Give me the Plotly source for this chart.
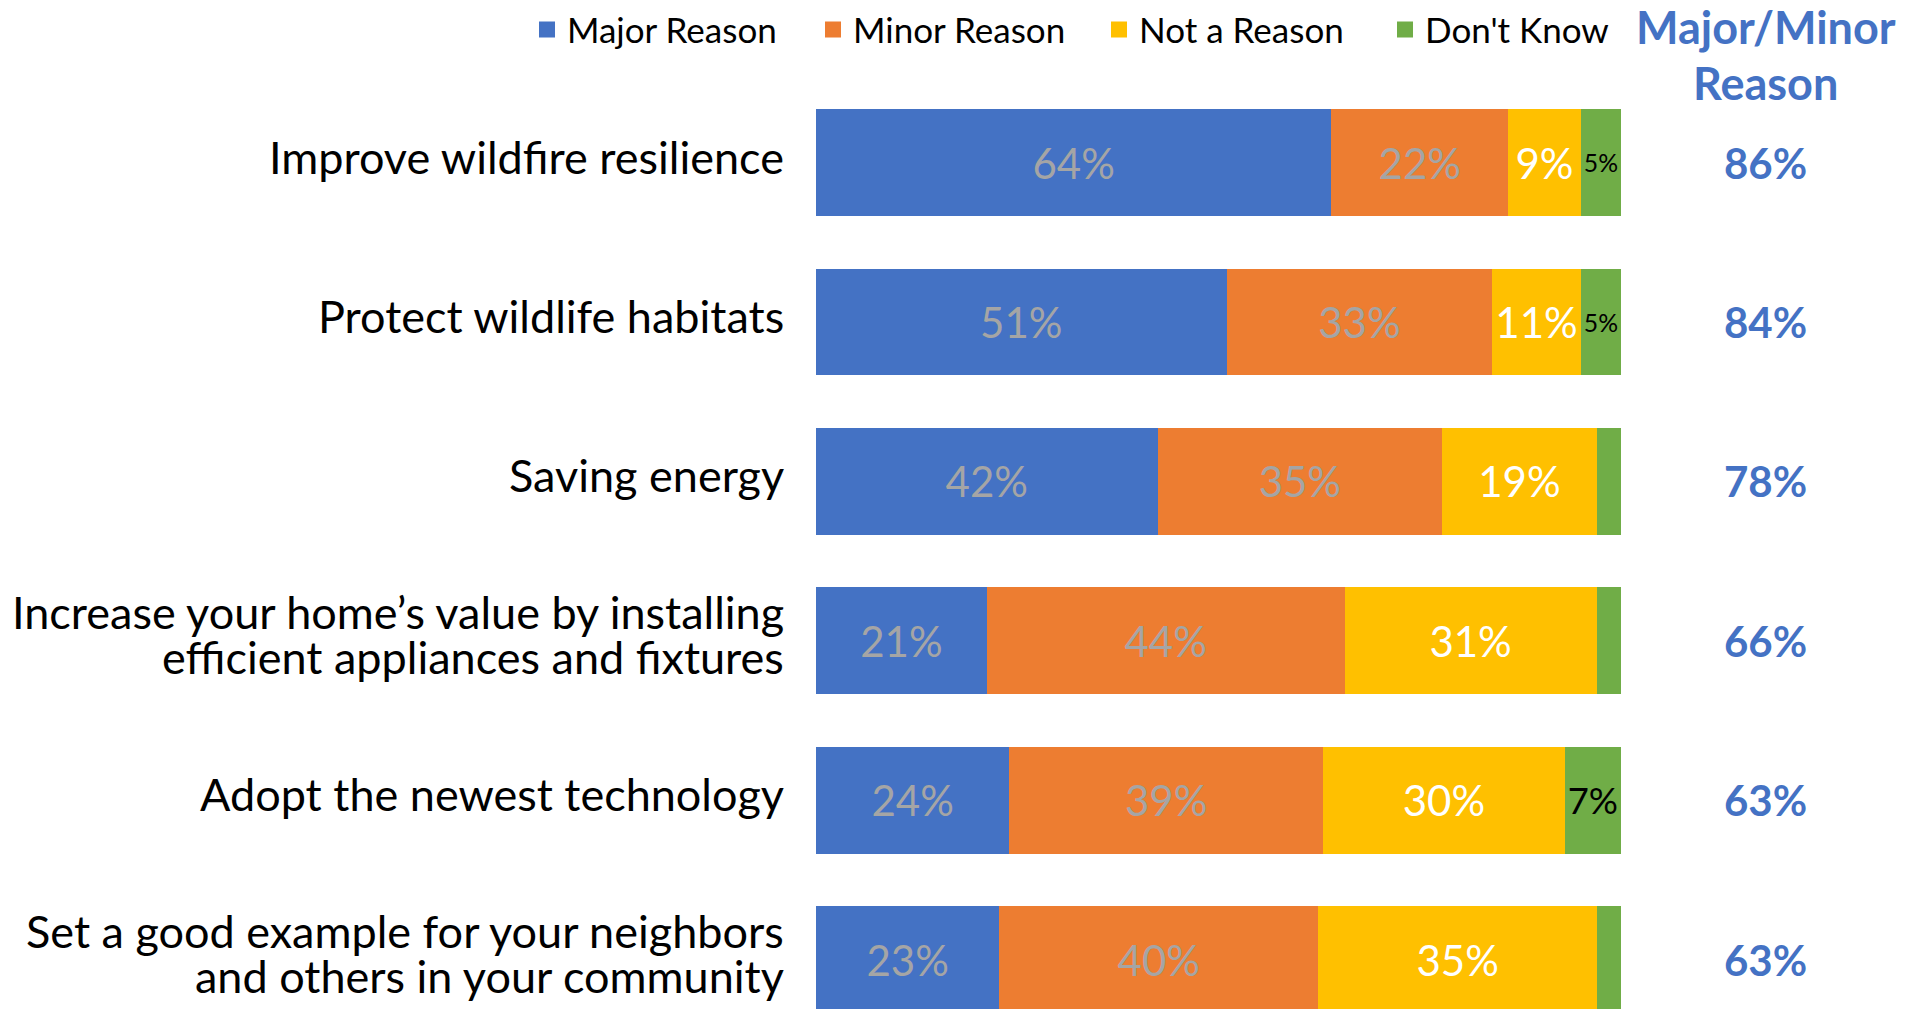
import plotly.graph_objects as go

categories = [
    "Improve wildfire resilience",
    "Protect wildlife habitats",
    "Saving energy",
    "Increase your home’s value by installing\nefficient appliances and fixtures",
    "Adopt the newest technology",
    "Set a good example for your neighbors\nand others in your community",
]
major = [64, 51, 42, 21, 24, 23]
minor = [22, 33, 35, 44, 39, 40]
not_reason = [9, 11, 19, 31, 30, 35]
dont_know = [5, 5, 3, 3, 7, 3]
major_minor = [86, 84, 78, 66, 63, 63]

series = [
    ("Major Reason", major, "#4472C4", "#A5A5A5"),
    ("Minor Reason", minor, "#ED7D31", "#A5A5A5"),
    ("Not a Reason", not_reason, "#FFC000", "#FFFFFF"),
    ("Don't Know", dont_know, "#70AD47", "#000000"),
]

FONT = "Lato"
BLUE = "#4472C4"

fig = go.Figure()
for name, vals, color, tcolor in series:
    # small slices (3%) are left unlabelled, as in the original
    labels = [f"{v}%" if v >= 5 else "" for v in vals]
    fig.add_trace(go.Bar(
        y=categories, x=vals, name=name, orientation="h", showlegend=False,
        marker=dict(color=color, line=dict(width=0)),
        text=labels, textposition="inside", insidetextanchor="middle",
        textangle=0, textfont=dict(family=FONT, size=42, color=tcolor),
    ))

# legend entries with bigger square swatches
for name, vals, color, tcolor in series:
    fig.add_trace(go.Scatter(x=[None], y=[None], mode="markers", name=name,
                             marker=dict(symbol="square", size=16, color=color)))

# category labels, one annotation per line for tighter line spacing
for cat in categories:
    lines = cat.split("\n")
    n = len(lines)
    for i, line in enumerate(lines):
        fig.add_annotation(x=0, xref="paper", y=cat, yref="y", text=line,
                           showarrow=False, xanchor="right", yanchor="middle",
                           xshift=-30, yshift=6 + ((n - 1) / 2 - i) * 45,
                           font=dict(family=FONT, size=45, color="black"))

for cat, v in zip(categories, major_minor):
    fig.add_annotation(x=1.18, xref="paper", y=cat, yref="y", text=f"<b>{v}%</b>",
                       showarrow=False, xanchor="center", yanchor="middle",
                       font=dict(family=FONT, size=42, color=BLUE))

for txt, ypos in [("Major/Minor", 1.06), ("Reason", 1.0)]:
    fig.add_annotation(x=1.18, xref="paper", y=ypos, yref="paper",
                       text=f"<b>{txt}</b>", showarrow=False,
                       xanchor="center", yanchor="middle",
                       font=dict(family=FONT, size=45, color=BLUE))

fig.update_layout(
    width=1908, height=1009,
    margin=dict(l=808, r=295, t=75, b=0, autoexpand=False),
    barmode="stack", barnorm="percent", bargap=0.33,
    plot_bgcolor="white", paper_bgcolor="white",
    font=dict(family=FONT, color="black"),
    showlegend=True,
    legend=dict(orientation="h", x=-0.359, xanchor="left", y=1.057, yanchor="middle",
                font=dict(family=FONT, size=35, color="black"),
                traceorder="normal", itemwidth=30, entrywidth=241),
    xaxis=dict(range=[0, 100], visible=False),
    yaxis=dict(range=[5.36, -0.5], showgrid=False, showline=False, zeroline=False,
               showticklabels=False),
)

fig.write_html("out.html")
